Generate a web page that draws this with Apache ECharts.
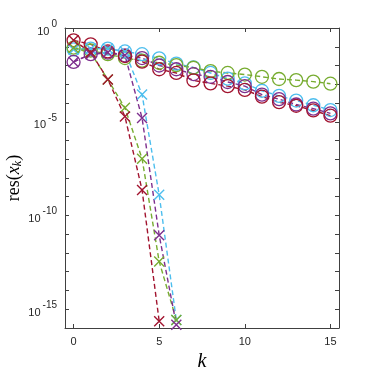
<!DOCTYPE html>
<html><head><meta charset="utf-8">
<script src="https://cdn.jsdelivr.net/npm/echarts@6/dist/echarts.min.js"></script>
<style>html,body{margin:0;padding:0;background:#fff}#c{width:374px;height:374px}</style>
</head><body><div id="c"></div>
<script>
// iteration index k
const kSlow = [0,1,2,3,4,5,6,7,8,9,10,11,12,13,14,15];
const kFastRed = [0,1,2,3,4,5];
const kFast = [0,1,2,3,4,5,6];

// slow methods (circles)
const redSlow    = [2.2e-1,1.35e-1,5.6e-2,3.2e-2,1.6e-2,6.3e-3,4.0e-3,1.6e-3,1.12e-3,7.9e-4,5.0e-4,2.2e-4,1.12e-4,7.1e-5,4.0e-5,2.1e-5];
const greenSlow  = [8.9e-2,6.3e-2,4.0e-2,2.5e-2,1.8e-2,1.4e-2,1.05e-2,7.6e-3,5.0e-3,4.0e-3,3.3e-3,2.5e-3,1.9e-3,1.66e-3,1.38e-3,1.07e-3];
const blueSlow   = [7.2e-2,7.9e-2,7.9e-2,5.6e-2,4.0e-2,2.4e-2,1.26e-2,7.9e-3,4.0e-3,2.0e-3,1.12e-3,4.5e-4,2.4e-4,1.35e-4,7.6e-5,4.2e-5];
const purpleSlow = [1.55e-2,4.0e-2,4.9e-2,3.5e-2,2.5e-2,1.0e-2,6.3e-3,3.5e-3,2.5e-3,1.32e-3,7.9e-4,2.8e-4,1.6e-4,8.3e-5,5.0e-5,2.8e-5];

// fast methods (crosses)
const redFast    = [2.2e-1,5.0e-2,1.8e-3,1.9e-5,2.3e-9,2.3e-16];
const greenFast  = [8.9e-2,4.7e-2,1.8e-3,5.5e-5,1.07e-7,3.5e-13,2.7e-16];
const blueFast   = [7.2e-2,7.9e-2,7.9e-2,5.6e-2,2.8e-4,1.26e-9,2.7e-16];
const purpleFast = [1.55e-2,4.0e-2,4.9e-2,3.5e-2,1.6e-5,8.9e-12,1.5e-16];

const xTicks = [0,5,10,15];
const yDecades = [1e-16,1e-15,1e-14,1e-13,1e-12,1e-11,1e-10,1e-9,1e-8,1e-7,1e-6,1e-5,1e-4,1e-3,1e-2,1e-1,1];
const yLabels = [1e-15,1e-10,1e-5,1];

const C = {red:'#A2142F', green:'#77AC30', blue:'#4DBEEE', purple:'#7E2F8E'};
const axisCol = '#404040';
const textCol = '#262626';

function pairs(xs, ys){ return ys.map((v,i)=>[xs[i], v]); }
function slow(name, ys, col){
  return {type:'line', name, data: pairs(kSlow, ys), symbol:'circle', symbolSize:13,
    itemStyle:{color:'rgba(0,0,0,0)', borderColor:col, borderWidth:1.3},
    lineStyle:{color:col, width:1.4, type:[5,3]}, silent:true};
}
function fast(name, xs, ys, col){
  return {type:'line', name, data: pairs(xs, ys), symbol:'path://M0 0L10 10M10 0L0 10', symbolSize:10,
    itemStyle:{color:'rgba(0,0,0,0)', borderColor:col, borderWidth:1.4},
    lineStyle:{color:col, width:1.4, type:[5,3]}, silent:true};
}
const supRich = {
  b:{fontSize:11, fontFamily:'Liberation Sans', color:textCol, lineHeight:18, verticalAlign:'bottom'},
  s:{fontSize:10, fontFamily:'Liberation Sans', color:textCol, lineHeight:12, verticalAlign:'top', padding:[0,0,0,2]}
};
function expLabel(v){ const e = Math.round(Math.log10(v)); return '{b|10}{s|' + e + '}'; }

const lineStyleAxis = {color:axisCol, width:1};
const chart = echarts.init(document.getElementById('c'), null, {renderer:'canvas'});
chart.setOption({
  animation:false,
  backgroundColor:'#fff',
  grid:{left:65, right:35, top:28, bottom:46, containLabel:false, outerBoundsMode:'none'},
  xAxis:[
    {type:'value', min:-0.5, max:15.5, position:'bottom',
     axisLine:{show:true, onZero:false, lineStyle:lineStyleAxis},
     axisTick:{show:true, inside:true, length:4, customValues:xTicks, lineStyle:lineStyleAxis},
     axisLabel:{customValues:xTicks, margin:8, fontSize:11, fontFamily:'Liberation Sans', color:textCol},
     splitLine:{show:false},
     name:'k', nameLocation:'middle', nameGap:24, nameMoveOverlap:false,
     nameTextStyle:{fontFamily:'Liberation Serif', fontStyle:'italic', fontSize:20, color:'#000'}},
    {type:'value', min:-0.5, max:15.5, position:'top',
     axisLine:{show:true, onZero:false, lineStyle:lineStyleAxis},
     axisTick:{show:true, inside:true, length:4, customValues:xTicks, lineStyle:lineStyleAxis},
     axisLabel:{show:false}, splitLine:{show:false}}
  ],
  yAxis:[
    {type:'log', logBase:10, min:1e-16, max:1, position:'left',
     axisLine:{show:true, onZero:false, lineStyle:lineStyleAxis},
     axisTick:{show:true, inside:true, length:4, customValues:yDecades, lineStyle:lineStyleAxis},
     axisLabel:{customValues:yLabels, margin:8, formatter:expLabel, rich:supRich},
     splitLine:{show:false},
     name:'{n|res(}{i|x}{k|k}{n|)}', nameLocation:'middle', nameGap:41, nameRotate:90, nameMoveOverlap:false,
     nameTextStyle:{rich:{
       n:{fontFamily:'Liberation Serif', fontSize:18, color:'#000', lineHeight:20},
       i:{fontFamily:'Liberation Serif', fontStyle:'italic', fontSize:18, color:'#000', lineHeight:20},
       k:{fontFamily:'Liberation Serif', fontStyle:'italic', fontSize:12, color:'#000', lineHeight:9, verticalAlign:'bottom'}
     }}},
    {type:'log', logBase:10, min:1e-16, max:1, position:'right',
     axisLine:{show:true, onZero:false, lineStyle:lineStyleAxis},
     axisTick:{show:true, inside:true, length:4, customValues:yDecades, lineStyle:lineStyleAxis},
     axisLabel:{show:false}, splitLine:{show:false}}
  ],
  series:[
    slow('blue-slow', blueSlow, C.blue),
    slow('green-slow', greenSlow, C.green),
    slow('purple-slow', purpleSlow, C.purple),
    slow('red-slow', redSlow, C.red),
    fast('blue-fast', kFast, blueFast, C.blue),
    fast('green-fast', kFast, greenFast, C.green),
    fast('purple-fast', kFast, purpleFast, C.purple),
    fast('red-fast', kFastRed, redFast, C.red)
  ]
});
</script></body></html>
